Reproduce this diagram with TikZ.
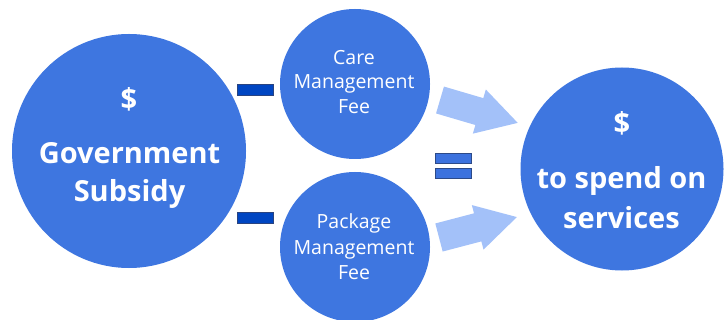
\documentclass[tikz,border=0pt]{standalone}
\usepackage{fontspec}
\setmainfont{Open Sans}
\definecolor{circblue}{HTML}{3E76E0}
\definecolor{arrowblue}{HTML}{A3C1F9}
\definecolor{minusblue}{HTML}{0046C2}
\definecolor{minusedge}{HTML}{2A4480}
\definecolor{eqblue}{HTML}{3C72DE}
\definecolor{eqedge}{HTML}{2D4A88}
\begin{document}
\begin{tikzpicture}[x=1pt,y=-1pt,
  bubble/.style={circle, fill=circblue, inner sep=0pt, minimum size=#1},
  bigtxt/.style={text=white, font=\fontsize{29}{34}\selectfont\bfseries, anchor=base, inner sep=0pt},
  smalltxt/.style={text=white, font=\fontsize{19.5}{24}\selectfont, anchor=base, inner sep=0pt},
  minusbar/.style={rectangle, fill=minusblue, draw=minusedge, line width=0.6pt, minimum width=36pt, minimum height=11pt, inner sep=0pt},
  eqbar/.style={rectangle, fill=eqblue, draw=eqedge, line width=0.8pt, minimum width=36pt, minimum height=10pt, inner sep=0pt},
  blockarrow/.style={fill=arrowblue}
]
\useasboundingbox (0,0) rectangle (727,320);
\fill[white] (0,0) rectangle (727,320);

% circles
\node[bubble=234pt] (gov) at (129,151) {};
\node[bubble=150pt] (care) at (355,84) {};
\node[bubble=150pt] (pkg) at (355,247) {};
\node[bubble=203pt] (spend) at (622,169) {};

% left text
\node[bigtxt] (govd) at (129,110) {\$};
\node[bigtxt] (govt1) at (129.5,164) {Government};
\node[bigtxt] (govt2) at (129.5,202) {Subsidy};

% right text
\node[bigtxt] (spd) at (622,134) {\$};
\node[bigtxt] (spt1) at (621.5,189) {to spend on};
\node[bigtxt] (spt2) at (621.5,228) {services};

% middle texts
\node[smalltxt] (c1) at (354,65) {Care};
\node[smalltxt] (c2) at (354,89) {Management};
\node[smalltxt] (c3) at (354,114) {Fee};
\node[smalltxt] (p1) at (354,229) {Package};
\node[smalltxt] (p2) at (354,254) {Management};
\node[smalltxt] (p3) at (354,279) {Fee};

% minus signs
\node[minusbar] (m1) at (255.5,90) {};
\node[minusbar] (m2) at (255.5,217.5) {};

% equals sign
\node[eqbar] (e1) at (453.5,158) {};
\node[eqbar] (e2) at (453.5,173.5) {};

% block arrows
\begin{scope}[shift={(440,100)}, rotate=-16.4]
  \fill[blockarrow] (0,-14) -- (41,-14) -- (41,-23) -- (81,0) -- (41,23) -- (41,14) -- (0,14) -- cycle;
\end{scope}
\begin{scope}[shift={(439,237.5)}, rotate=14.7]
  \fill[blockarrow] (0,-14.5) -- (40,-14.5) -- (40,-23) -- (80.5,0) -- (40,23) -- (40,14.5) -- (0,14.5) -- cycle;
\end{scope}
\end{tikzpicture}
\end{document}
